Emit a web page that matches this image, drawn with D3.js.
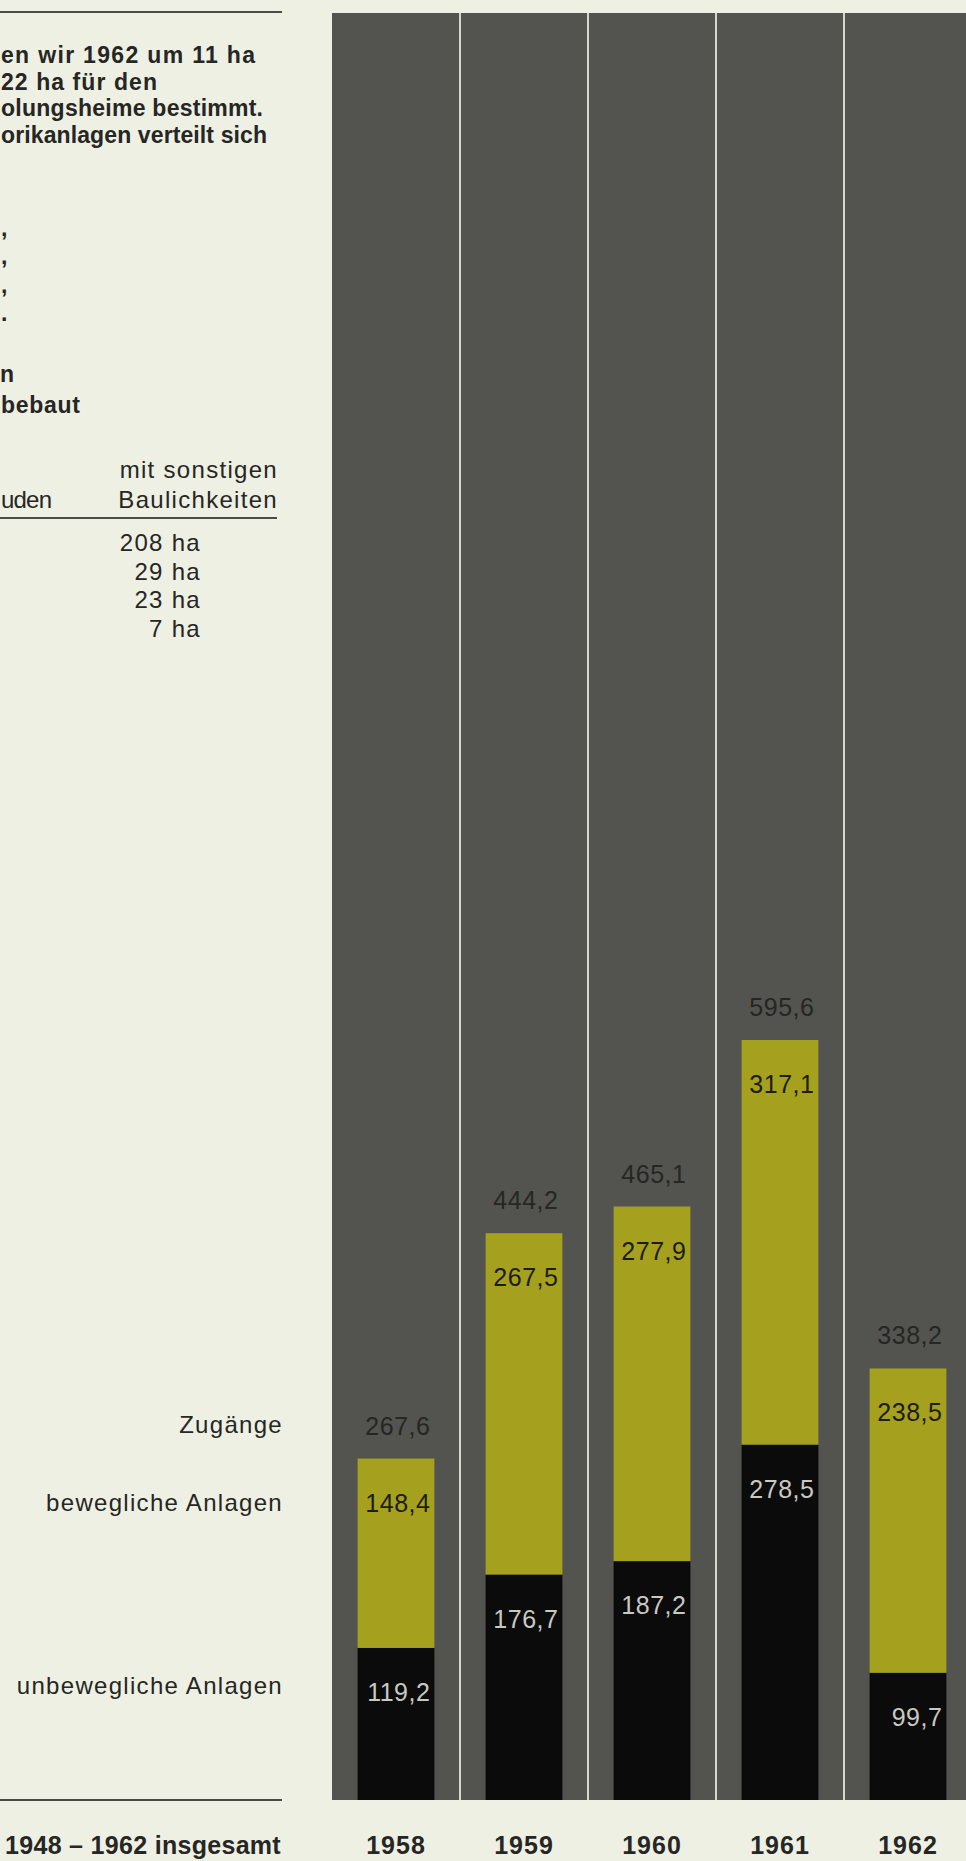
<!DOCTYPE html>
<html lang="de">
<head>
<meta charset="utf-8">
<title>Zugänge 1958–1962</title>
<script src="https://cdn.jsdelivr.net/npm/d3@7/dist/d3.min.js"></script>
<style>
  html, body { margin: 0; padding: 0; background: #eef0e3; }
  svg { display: block; }
  text { font-family: "Liberation Sans", Arial, Helvetica, sans-serif; }
</style>
</head>
<body>
<svg id="chart" width="966" height="1861"></svg>
<script>
// Zugänge je Jahr (Mio DM): unbewegliche + bewegliche Anlagen = Summe
const years = ["1958", "1959", "1960", "1961", "1962"];
const unbeweglich = [119.2, 176.7, 187.2, 278.5, 99.7];
const beweglich = [148.4, 267.5, 277.9, 317.1, 238.5];
const zugaenge = [267.6, 444.2, 465.1, 595.6, 338.2];

// Textblock links (Zeilenenden der Spalte)
const introLines = ["en wir 1962 um 11 ha", "22 ha für den", "olungsheime bestimmt.", "orikanlagen verteilt sich"];
const listMarks = [",", ",", ",", "."];
const tableHeadRight = ["mit sonstigen", "Baulichkeiten"];
const tableValues = ["208 ha", "29 ha", "23 ha", "7 ha"];
const legendLabels = ["Zugänge", "bewegliche Anlagen", "unbewegliche Anlagen"];
const totalLabel = "1948 – 1962 insgesamt";

const W = 966, H = 1861;
const svg = d3.select("#chart");

const colors = {
  paper: "#eef0e3",
  panel: "#535350",
  divider: "#d6d7cb",
  yellow: "#a6a01f",
  black: "#0b0b0b",
  ink: "#262624",
  lightInk: "#c9c9c1"
};

const fmt = v => d3.format(".1f")(v).replace(".", ",");

// Skalen
const panelLeft = 332, panelRight = 972, panelTop = 13, base = 1800;
const x = d3.scaleBand().domain(years).range([panelLeft, panelRight])
  .paddingInner(0.4).paddingOuter(0.2);
const col = d3.scaleBand().domain(years).range([panelLeft, panelRight]);
const y = d3.scaleLinear().domain([0, 600]).range([base, base - 600 * 1.276]);

// Hintergrund
svg.append("rect").attr("width", W).attr("height", H).attr("fill", colors.paper);

// dunkle Fläche mit Spaltentrennern
svg.append("rect")
  .attr("x", panelLeft).attr("y", panelTop)
  .attr("width", panelRight - panelLeft).attr("height", base - panelTop)
  .attr("fill", colors.panel);

svg.append("g").selectAll("line")
  .data(years.slice(1))
  .join("line")
  .attr("x1", d => col(d)).attr("x2", d => col(d))
  .attr("y1", panelTop).attr("y2", base)
  .attr("stroke", colors.divider).attr("stroke-width", 2);

// gestapelte Säulen
const rows = years.map((yr, i) => ({ yr, u: unbeweglich[i], b: beweglich[i], t: zugaenge[i] }));

const bars = svg.append("g");
bars.selectAll("rect.u").data(rows).join("rect").attr("class", "u")
  .attr("x", d => x(d.yr)).attr("width", x.bandwidth())
  .attr("y", d => y(d.u)).attr("height", d => y(0) - y(d.u))
  .attr("fill", colors.black);

bars.selectAll("rect.b").data(rows).join("rect").attr("class", "b")
  .attr("x", d => x(d.yr)).attr("width", x.bandwidth())
  .attr("y", d => y(d.u + d.b)).attr("height", d => y(d.u) - y(d.u + d.b))
  .attr("fill", colors.yellow);

// Werte
const labels = svg.append("g").attr("font-size", 25).attr("letter-spacing", 0.5)
  .attr("text-anchor", "end");
const lx = d => x(d.yr) + x.bandwidth() - 4;

labels.selectAll("text.t").data(rows).join("text").attr("class", "t")
  .attr("x", lx).attr("y", d => y(d.t) - 24)
  .attr("fill", colors.ink).text(d => fmt(d.t));

labels.selectAll("text.b").data(rows).join("text").attr("class", "b")
  .attr("x", lx).attr("y", d => y(d.u + d.b) + 53)
  .attr("fill", "#1c1c10").text(d => fmt(d.b));

labels.selectAll("text.u").data(rows).join("text").attr("class", "u")
  .attr("x", lx).attr("y", d => y(d.u) + 53)
  .attr("fill", colors.lightInk).text(d => fmt(d.u));

// Jahresachse
const xAxis = d3.axisBottom(x).tickSize(0).tickPadding(0);
const axisG = svg.append("g").attr("transform", `translate(0, ${base})`).call(xAxis);
axisG.select(".domain").remove();
axisG.selectAll("text")
  .attr("y", 54).attr("dy", 0)
  .attr("font-size", 25).attr("font-weight", "bold")
  .attr("letter-spacing", 1)
  .attr("font-family", "'Liberation Sans', Arial, Helvetica, sans-serif")
  .attr("fill", colors.ink);

// linke Spalte
const left = svg.append("g").attr("fill", colors.ink);

left.append("line").attr("x1", 0).attr("x2", 282).attr("y1", 12).attr("y2", 12)
  .attr("stroke", "#4a4a46").attr("stroke-width", 2);

// Zeilen, deren Anfang am linken Rand liegt: Breite über textLength festgelegt
const introEnds = [255, 157, 263, 267];
left.selectAll("text.intro").data(introLines).join("text").attr("class", "intro")
  .attr("x", 1).attr("y", (d, i) => 63 + i * 26.5)
  .attr("textLength", (d, i) => introEnds[i] - 1).attr("lengthAdjust", "spacing")
  .attr("font-size", 23).attr("font-weight", "bold")
  .text(d => d);

left.selectAll("text.mark").data(listMarks).join("text").attr("class", "mark")
  .attr("x", 1).attr("y", (d, i) => 236 + i * 28.4)
  .attr("font-size", 23).attr("font-weight", "bold")
  .text(d => d);

left.append("text").attr("x", 0).attr("y", 382)
  .attr("font-size", 23).attr("font-weight", "bold").text("n");
left.append("text").attr("x", 1).attr("y", 413)
  .attr("textLength", 79).attr("lengthAdjust", "spacing")
  .attr("font-size", 23).attr("font-weight", "bold").text("bebaut");

const txt = { size: 24, spacing: 1.3 };
left.selectAll("text.head").data(tableHeadRight).join("text").attr("class", "head")
  .attr("text-anchor", "end")
  .attr("x", 278).attr("y", (d, i) => 478 + i * 30)
  .attr("font-size", txt.size).attr("letter-spacing", txt.spacing).text(d => d);
left.append("text").attr("x", 1).attr("y", 508)
  .attr("textLength", 51).attr("lengthAdjust", "spacing")
  .attr("font-size", txt.size).text("uden");

left.append("line").attr("x1", 0).attr("x2", 277).attr("y1", 518).attr("y2", 518)
  .attr("stroke", "#4a4a46").attr("stroke-width", 2);

left.selectAll("text.val").data(tableValues).join("text").attr("class", "val")
  .attr("text-anchor", "end")
  .attr("x", 201).attr("y", (d, i) => 551 + i * 28.7)
  .attr("font-size", txt.size).attr("letter-spacing", txt.spacing).text(d => d);

// Legende
const legendY = [1433, 1511, 1694];
left.selectAll("text.legend").data(legendLabels).join("text").attr("class", "legend")
  .attr("text-anchor", "end")
  .attr("x", 283).attr("y", (d, i) => legendY[i])
  .attr("font-size", txt.size).attr("letter-spacing", txt.spacing).text(d => d);

left.append("line").attr("x1", 0).attr("x2", 282).attr("y1", base).attr("y2", base)
  .attr("stroke", "#4a4a46").attr("stroke-width", 2);

left.append("text").attr("text-anchor", "end").attr("x", 281).attr("y", 1854)
  .attr("font-size", 25).attr("font-weight", "bold").attr("letter-spacing", 0.3)
  .text(totalLabel);
</script>
</body>
</html>
